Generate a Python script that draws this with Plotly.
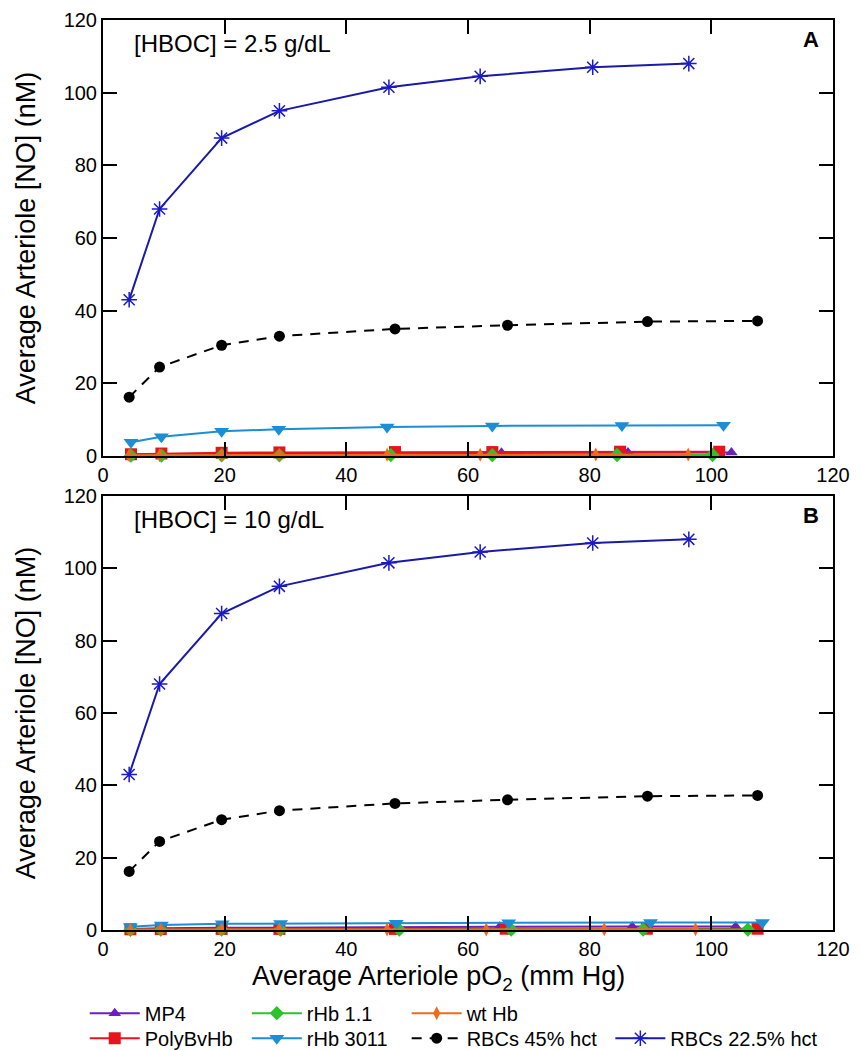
import plotly.graph_objects as go
from plotly.subplots import make_subplots

# ---------------- Data ----------------
# Panel A: [HBOC] = 2.5 g/dL
A_rbc225_x = [4.3, 9.3, 19.5, 29, 47, 62, 80.5, 96.3]
A_rbc225_y = [43, 68, 87.5, 95, 101.5, 104.5, 107, 108]
A_rbc45_x = [4.3, 9.3, 19.5, 29, 48, 66.5, 89.5, 107.6]
A_rbc45_y = [16.2, 24.5, 30.5, 33, 35, 36, 37, 37.2]
A_r3011_x = [4.6, 9.6, 19.5, 28.9, 46.7, 64, 85.3, 102]
A_r3011_y = [3.8, 5.3, 6.8, 7.4, 8.0, 8.3, 8.4, 8.5]
A_poly_x = [4.6, 9.6, 19.5, 29, 48, 64, 85, 101.3]
A_poly_y = [0.5, 0.7, 0.9, 1.0, 1.1, 1.1, 1.2, 1.2]
A_mp4_x = [4.6, 9.6, 19.5, 29, 47.5, 65.5, 86.3, 103.3]
A_mp4_y = [0.4, 0.5, 0.6, 0.7, 0.8, 0.9, 1.0, 1.0]
A_r11_x = [4.6, 9.6, 19.5, 29, 47.3, 64, 84.5, 100.2]
A_r11_y = [0.1, 0.15, 0.2, 0.2, 0.25, 0.25, 0.3, 0.3]
A_wt_x = [4.3, 9.3, 19.5, 29, 46.7, 62, 81, 96.2]
A_wt_y = [0.2, 0.25, 0.3, 0.3, 0.35, 0.35, 0.4, 0.4]

# Panel B: [HBOC] = 10 g/dL
B_rbc225_x = [4.3, 9.3, 19.5, 29, 47, 62, 80.5, 96.3]
B_rbc225_y = [43, 68, 87.5, 95, 101.5, 104.5, 107, 108]
B_rbc45_x = [4.3, 9.3, 19.5, 29, 48, 66.5, 89.5, 107.6]
B_rbc45_y = [16.2, 24.5, 30.5, 33, 35, 36, 37, 37.2]
B_r3011_x = [4.5, 9.6, 19.6, 29.2, 48.2, 66.7, 90, 108.4]
B_r3011_y = [0.9, 1.4, 1.7, 1.8, 1.9, 2.0, 2.1, 2.1]
B_poly_x = [4.5, 9.5, 19.5, 29, 48, 66.2, 89.4, 107.6]
B_poly_y = [0.2, 0.25, 0.3, 0.3, 0.3, 0.35, 0.35, 0.35]
B_mp4_x = [4.5, 9.5, 19.5, 29, 47.5, 65.2, 87, 104]
B_mp4_y = [0.3, 0.5, 0.6, 0.7, 0.8, 0.9, 1.0, 1.0]
B_r11_x = [4.5, 9.5, 19.5, 29.2, 48.7, 67.1, 88.8, 106]
B_r11_y = [0.05, 0.08, 0.1, 0.1, 0.1, 0.1, 0.12, 0.12]
B_wt_x = [4.5, 9.5, 19.5, 29, 46.7, 63, 82.4, 97.4]
B_wt_y = [0.1, 0.12, 0.15, 0.15, 0.15, 0.15, 0.18, 0.18]

x_ticks = [0, 20, 40, 60, 80, 100, 120]
y_ticks = [0, 20, 40, 60, 80, 100, 120]

# ---------------- Styles ----------------
series = [
    # name, key, color, symbol, size, dash, legend
    ("MP4", "mp4", "#6a1fc0", "triangle-up", 11, "solid", "legend"),
    ("PolyBvHb", "poly", "#e8141b", "square", 12, "solid", "legend5"),
    ("rHb 1.1", "r11", "#2cc22c", "diamond", 11, "solid", "legend2"),
    ("rHb 3011", "r3011", "#1b8ed6", "triangle-down", 13, "solid", "legend6"),
    ("wt Hb", "wt", "#f06a1c", "diamond-tall", 10, "solid", "legend3"),
    ("RBCs 45% hct", "rbc45", "#000000", "circle", 11, "dash", "legend7"),
    ("RBCs 22.5% hct", "rbc225", "#1a1ac8", "asterisk-open", 13, "solid", "legend4"),
]

data = {
    "A": dict(mp4=(A_mp4_x, A_mp4_y), poly=(A_poly_x, A_poly_y), r11=(A_r11_x, A_r11_y),
              r3011=(A_r3011_x, A_r3011_y), wt=(A_wt_x, A_wt_y), rbc45=(A_rbc45_x, A_rbc45_y),
              rbc225=(A_rbc225_x, A_rbc225_y)),
    "B": dict(mp4=(B_mp4_x, B_mp4_y), poly=(B_poly_x, B_poly_y), r11=(B_r11_x, B_r11_y),
              r3011=(B_r3011_x, B_r3011_y), wt=(B_wt_x, B_wt_y), rbc45=(B_rbc45_x, B_rbc45_y),
              rbc225=(B_rbc225_x, B_rbc225_y)),
}

fig = make_subplots(rows=2, cols=1, vertical_spacing=0.0)

for row, panel in [(1, "A"), (2, "B")]:
    for name, key, color, symbol, size, dash, leg in series:
        xs, ys = data[panel][key]
        line_color = "#1a1aa8" if key == "rbc225" else color
        fig.add_trace(
            go.Scatter(
                x=xs, y=ys, mode="lines+markers", name=name,
                line=dict(color=line_color, width=2, dash="solid" if dash == "solid" else "10px,8px"),
                marker=dict(symbol=symbol, size=size, color=color,
                            line=dict(color=color, width=1.5 if key == "rbc225" else 0)),
                showlegend=(row == 1), legend=leg, cliponaxis=False,
            ),
            row=row, col=1,
        )

FONT = "Liberation Sans, Arial"
axis_common = dict(
    showgrid=False, zeroline=False, showline=True, linecolor="black", linewidth=2,
    mirror="allticks", ticks="inside", ticklen=14, tickwidth=2, tickcolor="black",
    tickfont=dict(family=FONT, size=20, color="black"), automargin=False,
    ticklabeloverflow="allow",
)

fig.update_xaxes(range=[0, 120], tickvals=x_ticks, **axis_common)
fig.update_yaxes(range=[0, 120], tickvals=y_ticks, **axis_common)

ytitle = dict(text="Average Arteriole [NO] (nM)", font=dict(family=FONT, size=27, color="black"),
              standoff=20)
fig.update_layout(
    xaxis=dict(domain=[0, 1]),
    yaxis=dict(domain=[0.5208, 1.0], title=ytitle),
    yaxis2=dict(domain=[0.0, 0.477], title=ytitle),
)

# x-axis title as annotation (slightly left of centre, as in the reference)
fig.add_annotation(text="Average Arteriole pO<sub>2</sub> (mm Hg)", xref="paper", yref="paper",
                   x=0.459, y=0, yshift=-48, xanchor="center", yanchor="middle", showarrow=False,
                   font=dict(family=FONT, size=27, color="black"))

leg_font = dict(family=FONT, size=20, color="black")
leg_common = dict(orientation="v", font=leg_font, bgcolor="rgba(0,0,0,0)",
                  xanchor="left", yanchor="top", tracegroupgap=0, itemwidth=50)
row1_y, row2_y = -0.070, -0.0975
col_x = [-0.025, 0.197, 0.416, 0.695]
fig.update_layout(
    legend=dict(x=col_x[0], y=row1_y, **leg_common),
    legend5=dict(x=col_x[0], y=row2_y, **leg_common),
    legend2=dict(x=col_x[1], y=row1_y, **leg_common),
    legend6=dict(x=col_x[1], y=row2_y, **leg_common),
    legend3=dict(x=col_x[2], y=row1_y, **leg_common),
    legend7=dict(x=col_x[2], y=row2_y, **leg_common),
    legend4=dict(x=col_x[3], y=row2_y, **leg_common),
)

for txt, xr, yr in [("[HBOC] = 2.5 g/dL", "x domain", "y domain"),
                    ("[HBOC] = 10 g/dL", "x2 domain", "y2 domain")]:
    fig.add_annotation(text=txt, xref=xr, yref=yr,
                       x=0.04, y=0.945, showarrow=False, xanchor="left", yanchor="middle",
                       font=dict(family=FONT, size=24, color="black"))
for txt, xr, yr in [("<b>A</b>", "x domain", "y domain"), ("<b>B</b>", "x2 domain", "y2 domain")]:
    fig.add_annotation(text=txt, xref=xr, yref=yr, x=0.984, y=0.955, showarrow=False,
                       xanchor="right", yanchor="middle",
                       font=dict(family=FONT, size=22, color="black"))

fig.update_layout(
    width=861, height=1050,
    margin=dict(l=95, r=36, t=12, b=128, autoexpand=False),
    plot_bgcolor="white", paper_bgcolor="white",
)

fig.write_html("out.html")
